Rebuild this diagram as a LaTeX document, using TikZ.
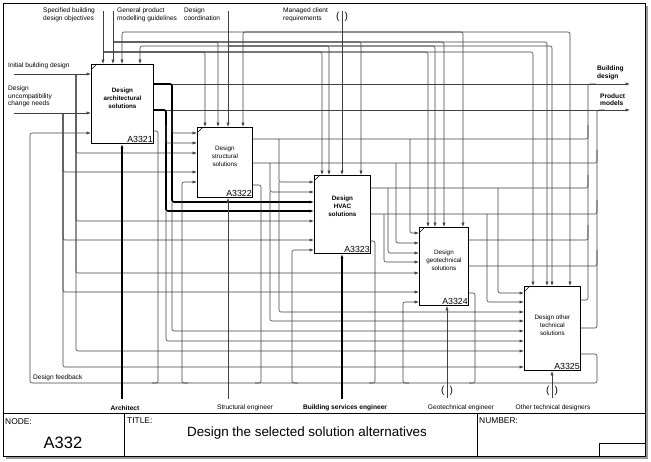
\documentclass[tikz,border=0pt]{standalone}
\usepackage{fontspec}
\setmainfont{Liberation Sans}
\usetikzlibrary{arrows.meta}

\tikzset{
  procbox/.style={draw, line width=0.9pt, anchor=north west, inner sep=0pt},
  boxlabel/.style={font=\fontsize{6.3}{8}\selectfont, align=center, inner sep=0pt},
  boxnum/.style={font=\fontsize{8.8}{9}\selectfont, anchor=south east, inner sep=1pt},
  arrowlabel/.style={font=\fontsize{6.6}{7.5}\selectfont, align=left, inner sep=0pt},
  flow/.style={draw=black!75, line width=0.6pt, rounded corners=2pt, -{Latex[length=4.5pt,width=3.2pt]}},
  branch/.style={draw=black!75, line width=0.6pt, rounded corners=2pt},
  heavyflow/.style={flow, draw=black, line width=1.6pt},
  tunnel/.style={font=\fontsize{10}{10}\selectfont, inner sep=0pt},
}

\begin{document}
\begin{tikzpicture}[x=1pt, y=-1pt]
\useasboundingbox (0,0) rectangle (651,461);

% frame and title block
\draw[black!40, line width=1.6pt] (647,6) -- (647,458) -- (6,458);
\draw[line width=0.8pt] (3,3) rectangle (645,456);
\draw[line width=0.8pt] (3,413) -- (645,413);
\draw[line width=0.8pt] (124,413) -- (124,456);
\draw[line width=0.8pt] (477,413) -- (477,456);
\draw[line width=0.8pt] (599,443) rectangle (645,456);
\node[font=\fontsize{8.4}{9}\selectfont, anchor=north west, inner sep=0pt] (nodel) at (5,418) {NODE:};
\node[font=\fontsize{8.4}{9}\selectfont, anchor=north west, inner sep=0pt] (titlel) at (127,418) {TITLE:};
\node[font=\fontsize{8.4}{9}\selectfont, anchor=north west, inner sep=0pt] (numl) at (479,418) {NUMBER:};
\node[font=\fontsize{16.5}{17}\selectfont] (nodeno) at (63,443) {A332};
\node[font=\fontsize{13.4}{15}\selectfont] (title) at (307,433) {Design the selected solution alternatives};

% activity boxes
\node[procbox, minimum width=62pt, minimum height=79pt] (a1) at (91,64) {};
\node[procbox, minimum width=55pt, minimum height=70pt] (a2) at (197,127) {};
\node[procbox, minimum width=56pt, minimum height=78pt] (a3) at (314,175) {};
\node[procbox, minimum width=49pt, minimum height=78pt] (a4) at (419,227) {};
\node[procbox, minimum width=56pt, minimum height=84pt] (a5) at (524,286) {};
\foreach \b in {a1,a2,a3,a4,a5}
  \draw[line width=0.6pt] ([yshift=-6pt]\b.north west) -- ([xshift=6pt]\b.north west);

\node[boxlabel, font=\fontsize{6.3}{8}\selectfont\bfseries] (a1t) at ([yshift=5.5pt]a1.center) {Design\\architectural\\solutions};
\node[boxlabel] (a2t) at ([yshift=6pt]a2.center) {Design\\structural\\solutions};
\node[boxlabel, font=\fontsize{6.3}{8}\selectfont\bfseries] (a3t) at ([yshift=8pt]a3.center) {Design\\HVAC\\solutions};
\node[boxlabel] (a4t) at ([yshift=6pt]a4.center) {Design\\geotechnical\\solutions};
\node[boxlabel] (a5t) at ([yshift=3pt]a5.center) {Design other\\technical\\solutions};
\node[boxnum] (a1n) at (a1.south east) {A3321};
\node[boxnum] (a2n) at (a2.south east) {A3322};
\node[boxnum] (a3n) at (a3.south east) {A3323};
\node[boxnum] (a4n) at (a4.south east) {A3324};
\node[boxnum] (a5n) at (a5.south east) {A3325};

% controls
\node[arrowlabel, anchor=north west] (sbol) at (43,8) {Specified building\\design objectives};
\node[arrowlabel, anchor=north west] (gpml) at (117,8) {General product\\modelling guidelines};
\node[arrowlabel, anchor=north west] (dcol) at (184,8) {Design\\coordination};
\node[arrowlabel, anchor=north west] (mcrl) at (283,8) {Managed client\\requirements};
\node[tunnel] (mtun) at (342,17) {(\hspace{5pt})};
\coordinate (s0) at (103,11);
\coordinate (g0) at (113,11);
\coordinate (d0) at (228,11);
\coordinate (m0) at (342,11);
\draw[flow] (s0) -- (a1.north -| s0);
\draw[flow] (g0) -- (a1.north -| g0);
\draw[flow] (d0) -- (a2.north -| d0);
\draw[flow] (m0) -- (a3.north -| m0);
\foreach \x/\b in {205/a2,322/a3,428/a4,533/a5}
  \draw[flow] (103,52) -| (\b.north -| \x,0);
\foreach \x/\b in {218/a2,361/a3,444/a4,547/a5}
  \draw[flow] (113,42) -| (\b.north -| \x,0);
\foreach \x/\b in {140/a1,329/a3,435/a4,552/a5}
  \draw[flow] (228,46) -| (\b.north -| \x,0);
\foreach \x/\b in {122/a1,243/a2,463/a4,570/a5}
  \draw[flow] (342,32) -| (\b.north -| \x,0);

% inputs
\node[arrowlabel, anchor=south west] (ibdl) at (8,69) {Initial building design};
\node[arrowlabel, anchor=north west] (dunl) at (8,86) {Design\\uncompatibility\\change needs};
\coordinate (i0) at (14,74);
\coordinate (u0) at (14,113);
\draw[flow] (i0) -- (a1.west |- i0);
\draw[flow] (u0) -- (a1.west |- u0);
\foreach \y/\b in {153/a2,221/a3,273/a4,351/a5}
  \draw[flow] (76,74) |- (\b.west |- 0,\y);
\foreach \y/\b in {172/a2,240/a3,292/a4,367/a5}
  \draw[flow] (63,113) |- (\b.west |- 0,\y);

% outputs
\node[arrowlabel, font=\fontsize{6.6}{7.5}\selectfont\bfseries, anchor=south west] (bdl) at (597,80) {Building\\design};
\node[arrowlabel, font=\fontsize{6.6}{7.5}\selectfont\bfseries, anchor=south west] (pml) at (600,106) {Product\\models};
\coordinate (bdo) at (630,84);
\coordinate (pmo) at (630,110);
\draw[flow] (a1.east |- bdo) -- (bdo);
\draw[flow] (a1.east |- pmo) -- (pmo);
\draw[heavyflow] (a1.east |- bdo) -| (172,202) -- (a3.west |- 0,202);
\draw[heavyflow] (a1.east |- pmo) -| (166,211) -- (a3.west |- 0,211);
\draw[flow] (172,110) |- (a2.west |- 0,133);
\draw[flow] (166,125) |- (a2.west |- 0,143);
\draw[flow] (172,202) |- (a5.west |- 0,331);
\draw[flow] (166,211) |- (a5.west |- 0,341);

\draw[branch] (a2.east |- 0,139) -| (588,125);
\draw[branch] (a2.east |- 0,163) -| (597,150);
\draw[flow] (279,139) |- (a3.west |- 0,182);
\draw[flow] (279,182) |- (a5.west |- 0,312);
\draw[flow] (270,163) |- (a3.west |- 0,192);
\draw[flow] (270,192) |- (a5.west |- 0,321);
\draw[flow] (410,139) |- (a4.west |- 0,233);
\draw[flow] (396,163) |- (a4.west |- 0,243);

\draw[branch] (a3.east |- 0,188) -| (588,175);
\draw[branch] (a3.east |- 0,214) -| (597,200);
\draw[flow] (388,188) |- (a4.west |- 0,253);
\draw[flow] (384,214) |- (a4.west |- 0,262);
\draw[flow] (498,188) |- (a5.west |- 0,293);
\draw[flow] (487,214) |- (a5.west |- 0,302);

\draw[branch] (a4.east |- 0,240) -| (588,225);
\draw[branch] (a4.east |- 0,266) -| (597,250);
\draw[branch] (a5.east |- 0,300) -| (588,84) -- (596,84);
\draw[branch] (a5.east |- 0,328) -| (597,110) -- (605,110);

% design feedback
\node[arrowlabel, anchor=south west] (fbl) at (33,381) {Design feedback};
\draw[branch] (a1.east |- 0,131) -| (158,383) -- (152,383);
\draw[branch] (a2.east |- 0,185) -| (261,383) -- (255,383);
\draw[branch] (a3.east |- 0,241) -| (375,383) -- (369,383);
\draw[branch] (a4.east |- 0,293) -| (475,383) -- (469,383);
\draw[flow] (a5.east |- 0,354) -| (597,383) -- (30,383) |- (a1.west |- 0,133);
\draw[flow] (188,383) -| (182,182) -- (a2.west |- 0,182);
\draw[flow] (298,383) -| (292,250) -- (a3.west |- 0,250);
\draw[flow] (409,383) -| (403,302) -- (a4.west |- 0,302);

% mechanisms
\coordinate (k1) at (122,399);
\coordinate (k2) at (228,399);
\coordinate (k3) at (342,399);
\coordinate (k4) at (447,398);
\coordinate (k5) at (552,398);
\draw[heavyflow] (k1) -- (a1.south -| k1);
\draw[flow] (k2) -- (a2.south -| k2);
\draw[heavyflow] (k3) -- (a3.south -| k3);
\draw[flow] (k4) -- (a4.south -| k4);
\draw[flow] (k5) -- (a5.south -| k5);
\node[tunnel] (gtun) at (447,391) {(\hspace{5pt})};
\node[tunnel] (otun) at (552,391) {(\hspace{5pt})};
\node[arrowlabel, font=\fontsize{6.6}{7.5}\selectfont\bfseries] (archl) at (125,408) {Architect};
\node[arrowlabel] (strl) at (245,408) {Structural engineer};
\node[arrowlabel, font=\fontsize{6.6}{7.5}\selectfont\bfseries] (bsel) at (345,408) {Building services engineer};
\node[arrowlabel] (geol) at (461,408) {Geotechnical engineer};
\node[arrowlabel] (othl) at (553,408) {Other technical designers};
\end{tikzpicture}
\end{document}
